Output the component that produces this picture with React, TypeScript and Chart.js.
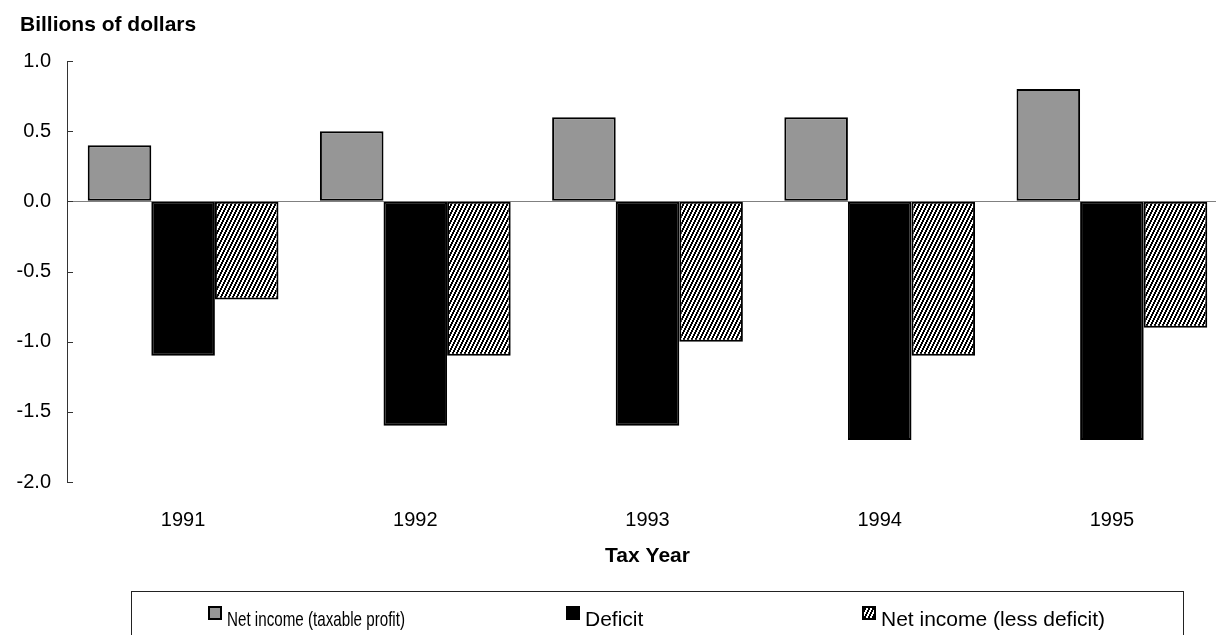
import React, { useEffect, useRef } from "react";
import { Chart, registerables } from "chart.js";

Chart.register(...registerables);

const categories = ["1991", "1992", "1993", "1994", "1995"];
const netIncomeTaxable = [0.4, 0.5, 0.6, 0.6, 0.8];
const deficit = [-1.1, -1.6, -1.6, -1.7, -1.7];
const netIncomeLessDeficit = [-0.7, -1.1, -1.0, -1.1, -0.9];
const seriesLabels = ["Net income (taxable profit)", "Deficit", "Net income (less deficit)"];
const yTickValues = [1.0, 0.5, 0.0, -0.5, -1.0, -1.5, -2.0];
const yTitle = "Billions of dollars";
const xTitle = "Tax Year";

const FONT = '"Liberation Sans", Arial, Helvetica, sans-serif';

function makeHatch(): CanvasPattern | string {
  const c = document.createElement("canvas");
  c.width = 4;
  c.height = 8;
  const g = c.getContext("2d");
  if (!g) return "#888";
  g.fillStyle = "#ffffff";
  g.fillRect(0, 0, 4, 8);
  g.fillStyle = "#000000";
  for (let y = 0; y < 8; y++) {
    for (let x = 0; x < 4; x++) {
      if ((2 * x + y) % 8 < 4) g.fillRect(x, y, 1, 1);
    }
  }
  const p = g.createPattern(c, "repeat");
  return p || "#888";
}

const decorPlugin = {
  id: "decor",
  afterDraw(chart: any) {
    const ctx = chart.ctx as CanvasRenderingContext2D;
    const ys = chart.scales.y;
    ctx.save();
    // inward tick marks on the value axis
    ctx.strokeStyle = "#333333";
    ctx.lineWidth = 1;
    ys.ticks.forEach((t: any) => {
      const py = Math.round(ys.getPixelForValue(t.value)) + 0.5;
      ctx.beginPath();
      ctx.moveTo(ys.right, py);
      ctx.lineTo(ys.right + 6, py);
      ctx.stroke();
    });
    // axis caption at top-left
    ctx.fillStyle = "#000";
    ctx.font = `bold 21px ${FONT}`;
    ctx.textBaseline = "alphabetic";
    ctx.textAlign = "left";
    ctx.fillText(yTitle, 20, 31);
    // boxed legend
    ctx.strokeStyle = "#222222";
    ctx.lineWidth = 1;
    ctx.strokeRect(131.5, 591.5, 1052, 200);
    const xs = [208, 566, 862];
    const maxW = [178, 200, 230];
    chart.data.datasets.forEach((ds: any, i: number) => {
      const x = xs[i];
      const y = 606;
      ctx.fillStyle = ds.backgroundColor;
      ctx.fillRect(x, y, 14, 14);
      ctx.lineWidth = 2;
      ctx.strokeStyle = "#000";
      ctx.strokeRect(x + 1, y + 1, 12, 12);
      ctx.fillStyle = "#000";
      ctx.font = `21px ${FONT}`;
      ctx.fillText(ds.label, x + 19, 626, maxW[i]);
    });
    ctx.restore();
  },
};

export default function App() {
  const ref = useRef<HTMLCanvasElement | null>(null);

  useEffect(() => {
    if (!ref.current) return;
    const hatch = makeHatch();
    const chart = new Chart(ref.current, {
      type: "bar",
      data: {
        labels: categories,
        datasets: [
          {
            label: seriesLabels[0],
            data: netIncomeTaxable,
            backgroundColor: "#969696",
            borderColor: "#000",
            borderWidth: 2,
            borderSkipped: false,
          },
          {
            label: seriesLabels[1],
            data: deficit,
            backgroundColor: "#000000",
            borderColor: "#000",
            borderWidth: 2,
            borderSkipped: false,
          },
          {
            label: seriesLabels[2],
            data: netIncomeLessDeficit,
            backgroundColor: hatch as any,
            borderColor: "#000",
            borderWidth: 2,
            borderSkipped: false,
          },
        ],
      },
      options: {
        responsive: false,
        animation: false,
        devicePixelRatio: 1,
        layout: { padding: { top: 61, left: 0, right: 4, bottom: 91 } },
        datasets: {
          bar: { categoryPercentage: 0.8215, barPercentage: 1.0 },
        },
        plugins: {
          legend: { display: false },
          title: { display: false },
          tooltip: { enabled: false },
        },
        scales: {
          x: {
            grid: { display: false, drawTicks: false },
            border: { display: false },
            ticks: {
              color: "#000",
              font: { family: FONT, size: 20 },
              padding: 26,
              maxRotation: 0,
            },
            title: {
              display: true,
              text: xTitle,
              color: "#000",
              font: { family: FONT, size: 21, weight: "bold" },
              padding: { top: 13, bottom: 0 },
            },
            afterFit: (s: any) => {
              s.height = 87;
            },
          },
          y: {
            min: -2,
            max: 1,
            afterBuildTicks: (s: any) => {
              s.ticks = yTickValues.map((v) => ({ value: v }));
            },
            grid: {
              drawTicks: false,
              color: (c: any) => (c.tick && c.tick.value === 0 ? "#808080" : "rgba(0,0,0,0)"),
              lineWidth: 1,
            },
            border: { display: true, color: "#333333", width: 1 },
            ticks: {
              color: "#000",
              font: { family: FONT, size: 20 },
              padding: 16,
              callback: (v: any) => Number(v).toFixed(1),
            },
            afterFit: (s: any) => {
              s.width = 67;
            },
          },
        },
      },
      plugins: [decorPlugin],
    });
    return () => chart.destroy();
  }, []);

  return (
    <div
      style={{
        position: "fixed",
        left: 0,
        top: 0,
        width: 1216,
        height: 635,
        overflow: "hidden",
        background: "#fff",
      }}
    >
      <canvas ref={ref} width={1232} height={660} style={{ width: 1232, height: 660, display: "block" }} />
    </div>
  );
}
